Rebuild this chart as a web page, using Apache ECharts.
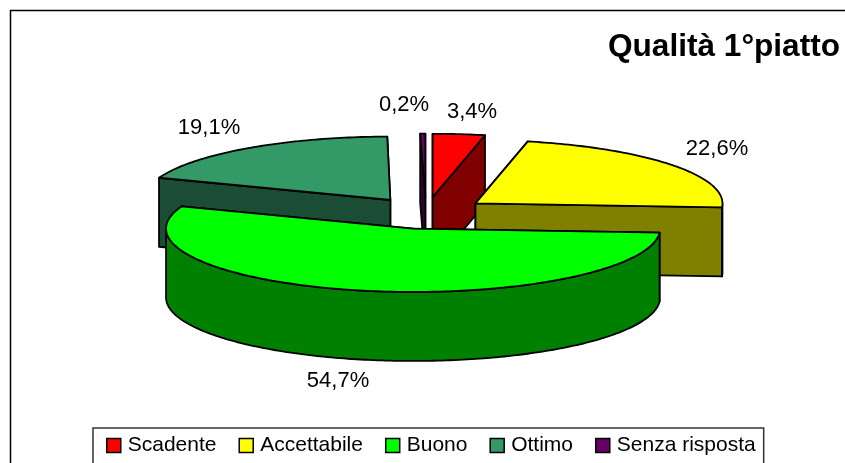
<!DOCTYPE html>
<html>
<head>
<meta charset="utf-8">
<style>
	html, body { margin: 0; padding: 0; background: #fff; }
	#chart { width: 845px; height: 463px; }
</style>
<script src="https://cdn.jsdelivr.net/npm/echarts@6/dist/echarts.min.js"></script>
</head>
<body>
<div id="chart"></div>
<script>
var categories = ['Scadente', 'Accettabile', 'Buono', 'Ottimo', 'Senza risposta'];
var values = [3.4, 22.6, 54.7, 19.1, 0.2];

var topColors = ['#ff0000', '#ffff00', '#00ff00', '#339966', '#660066'];
var sideColors = ['#800000', '#808000', '#008000', '#1a4d33', '#330033'];
// Excel paints the slices back to front, Buono last
var zOrder = [2, 4, 5, 1, 3];
var labelCenters = [[472, 112], [717, 149], [338, 381], [209, 128], [404, 105]];

var pie = { cx: 426, cy: 213, rx: 247, ry: 63.4, depth: 69, explode: 62, minSweep: 1.2 };
var total = values.reduce(function (a, b) { return a + b; }, 0);

function rad(deg) {
	return deg * Math.PI / 180;
}

function renderSlice(index, params, api) {
	var before = 0;
	for (var i = 0; i < index; i++) {
		before += values[i];
	}
	var end = (before + api.value(0)) / total * 360;
	// very thin slices stay visible under their outline
	var start = Math.min(before / total * 360, end - pie.minSweep);
	var mid = (start + end) / 2;
	var ax = pie.cx + pie.explode * Math.sin(rad(mid));
	var ay = pie.cy - pie.explode * pie.ry / pie.rx * Math.cos(rad(mid));

	function rim(deg, drop) {
		return [ax + pie.rx * Math.sin(rad(deg)), ay - pie.ry * Math.cos(rad(deg)) + (drop || 0)];
	}
	function arc(from, to, drop) {
		var pts = [];
		var n = Math.max(1, Math.ceil(to - from));
		for (var k = 0; k <= n; k++) {
			pts.push(rim(from + (to - from) * k / n, drop));
		}
		return pts;
	}
	function poly(points, color) {
		return {
			type: 'polygon',
			shape: { points: points },
			style: { fill: color, stroke: '#000', lineWidth: 1.8, lineJoin: 'round' }
		};
	}
	function cutFace(deg) {
		return poly([[ax, ay], rim(deg), rim(deg, pie.depth), [ax, ay + pie.depth]], sideColors[index]);
	}

	var children = [];
	// the cut face further back goes first
	var cuts = [start, end].sort(function (p, q) {
		return rim(p)[1] - rim(q)[1];
	});
	children.push(cutFace(cuts[0]));
	children.push(cutFace(cuts[1]));

	var frontFrom = Math.max(start, 90);
	var frontTo = Math.min(end, 270);
	if (frontTo > frontFrom) {
		children.push(poly(arc(frontFrom, frontTo).concat(arc(frontFrom, frontTo, pie.depth).reverse()), sideColors[index]));
	}
	children.push(poly([[ax, ay]].concat(arc(start, end)), topColors[index]));
	children.push({
		type: 'text',
		style: {
			text: api.value(0).toFixed(1).replace('.', ',') + '%',
			x: labelCenters[index][0],
			y: labelCenters[index][1],
			align: 'center',
			verticalAlign: 'middle',
			fill: '#000',
			font: '22px "Liberation Sans"'
		}
	});
	return { type: 'group', children: children };
}

var series = categories.map(function (name, i) {
	return {
		type: 'custom',
		name: name,
		coordinateSystem: 'none',
		z: zOrder[i],
		silent: true,
		data: [[values[i]]],
		renderItem: function (params, api) {
			return renderSlice(i, params, api);
		}
	};
});

var chart = echarts.init(document.getElementById('chart'), null, { renderer: 'canvas' });
chart.setOption({
	animation: false,
	backgroundColor: '#fff',
	title: {
		text: 'Qualità 1°piatto',
		right: 5,
		top: 31,
		padding: 0,
		textStyle: { fontFamily: 'Liberation Sans', fontWeight: 'bold', fontSize: 31.6, color: '#000' }
	},
	legend: {
		orient: 'horizontal',
		left: 93,
		top: 428,
		padding: [7, 8, 20, 13],
		itemGap: 22,
		itemWidth: 14,
		itemHeight: 14,
		borderColor: '#333',
		borderWidth: 1.5,
		textStyle: { fontFamily: 'Liberation Sans', fontSize: 21, color: '#000', padding: [0, 0, 6, 2] },
		data: categories.map(function (name, i) {
			return {
				name: name,
				icon: 'rect',
				itemStyle: { color: topColors[i], borderColor: '#000', borderWidth: 1.5 }
			};
		})
	},
	graphic: [{
		type: 'polyline',
		silent: true,
		shape: { points: [[10.5, 463], [10.5, 10.5], [845, 10.5]] },
		style: { fill: null, stroke: '#000', lineWidth: 1.5 }
	}],
	series: series
});
</script>
</body>
</html>
